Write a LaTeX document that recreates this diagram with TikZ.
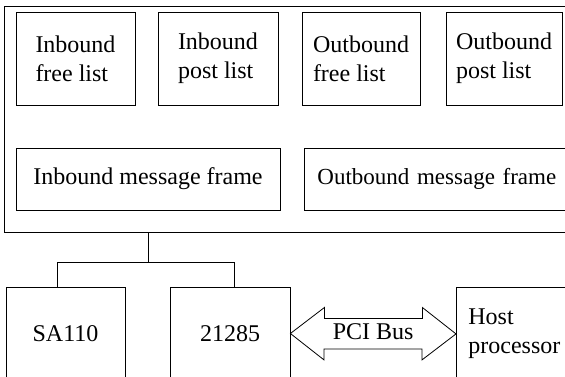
\documentclass[tikz,border=0pt]{standalone}
\usepackage{fontspec}
\setmainfont{Liberation Serif}
\usetikzlibrary{calc}
\begin{document}
\begin{tikzpicture}[x=1pt,y=-1pt,
  every node/.style={font=\fontsize{24}{29}\selectfont},
  box/.style={draw, line width=0.8pt, inner sep=0pt, align=left},
  ln/.style={line width=0.8pt}]
\useasboundingbox (0,0) rectangle (565,376);
\clip (0,0) rectangle (565,376);
% outer frame
\node[draw, line width=0.8pt, anchor=north west, minimum width=590, minimum height=226, inner sep=0pt] (frame) at (4,6) {};
% list boxes
\node[box, minimum width=119, minimum height=93] (ifl) at (75.5,58.5) {Inbound\\free list};
\node[box, minimum width=120, minimum height=93] (ipl) at (218,58.5) {Inbound\\post list};
\node[box, minimum width=118, minimum height=93] (ofl) at (361,58.5) {Outbound\\free list};
\node[box, minimum width=116, minimum height=93] (opl) at (504,58.5) {Outbound\\post list};
% message frames
\node[box, minimum width=264, minimum height=62] (imf) at (148,179) {Inbound message frame};
\node[box, anchor=west, text width=270, inner xsep=13, minimum height=62, font=\fontsize{23}{29}\selectfont] (omf) at (304,179) {Outbound message frame};
% lower boxes
\node[box, minimum width=119, minimum height=93] (sa) at (65.5,333.5) {SA110};
\node[box, minimum width=120, minimum height=93] (chip) at (230,333.5) {21285};
\node[box, anchor=north west, text width=110, inner xsep=12, minimum height=93] (host) at (456,287) {Host\\processor};
% tree connector
\coordinate (j) at (148,262);
\coordinate (jl) at (57,262);
\coordinate (jr) at (234,262);
\draw[ln] (frame.south -| j) -- (j);
\draw[ln] (jl |- sa.north) -- (jl) -- (jr) -- (jr |- chip.north);
% PCI bus double arrow
\draw[ln, line join=miter] (chip.east) -- ++(34,-26) -- ++(0,11) -- ++(98,0) -- ++(0,-11)
  -- (host.west) -- ++(-34,26) -- ++(0,-11) -- ++(-98,0) -- ++(0,11) -- cycle;
\node[inner sep=0pt] (pci) at ($(chip.east)!0.5!(host.west)+(0,-2)$) {PCI Bus};
\end{tikzpicture}
\end{document}
